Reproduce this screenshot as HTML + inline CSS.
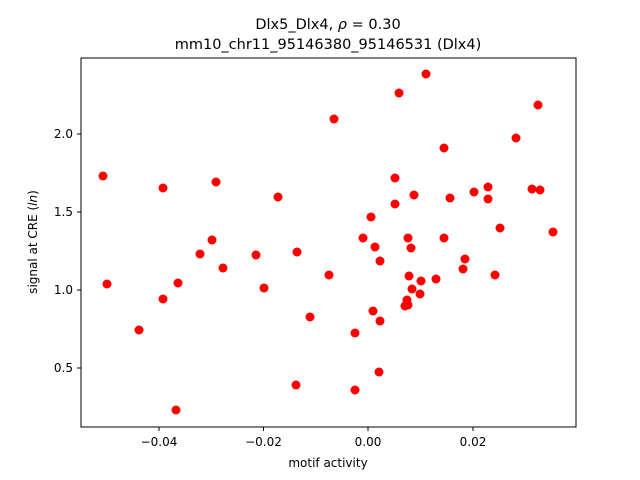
<!DOCTYPE html>
<html><head><style>body{margin:0;background:#fff}svg{display:block}text{font-family:"DejaVu Sans","Liberation Sans",sans-serif;fill:#000}</style></head>
<body>
<svg width="640" height="480" xmlns="http://www.w3.org/2000/svg">
<rect width="640" height="480" fill="#fff"/>
<text x="328" y="29" font-size="14.5" text-anchor="middle">Dlx5_Dlx4, <tspan font-style="italic">ρ</tspan> = 0.30</text>
<text x="328" y="49" font-size="14.5" text-anchor="middle">mm10_chr11_95146380_95146531 (Dlx4)</text>
<g fill="#ff0000">
<circle cx="103" cy="176" r="4.5"/><circle cx="107" cy="284" r="4.5"/><circle cx="139" cy="330" r="4.5"/><circle cx="163" cy="188" r="4.5"/><circle cx="163" cy="299" r="4.5"/><circle cx="176" cy="410" r="4.5"/><circle cx="178" cy="283" r="4.5"/><circle cx="200" cy="254" r="4.5"/><circle cx="212" cy="240" r="4.5"/><circle cx="216" cy="182" r="4.5"/><circle cx="223" cy="268" r="4.5"/><circle cx="256" cy="255" r="4.5"/><circle cx="264" cy="288" r="4.5"/><circle cx="278" cy="197" r="4.5"/><circle cx="297" cy="252" r="4.5"/><circle cx="296" cy="385" r="4.5"/><circle cx="310" cy="317" r="4.5"/><circle cx="329" cy="275" r="4.5"/><circle cx="334" cy="119" r="4.5"/><circle cx="355" cy="333" r="4.5"/><circle cx="355" cy="390" r="4.5"/><circle cx="363" cy="238" r="4.5"/><circle cx="371" cy="217" r="4.5"/><circle cx="373" cy="311" r="4.5"/><circle cx="375" cy="247" r="4.5"/><circle cx="380" cy="261" r="4.5"/><circle cx="380" cy="321" r="4.5"/><circle cx="379" cy="372" r="4.5"/><circle cx="395" cy="178" r="4.5"/><circle cx="395" cy="204" r="4.5"/><circle cx="399" cy="93" r="4.5"/><circle cx="405" cy="306" r="4.5"/><circle cx="407" cy="300" r="4.5"/><circle cx="408" cy="238" r="4.5"/><circle cx="408" cy="305" r="4.5"/><circle cx="409" cy="276" r="4.5"/><circle cx="411" cy="248" r="4.5"/><circle cx="412" cy="289" r="4.5"/><circle cx="414" cy="195" r="4.5"/><circle cx="420" cy="294" r="4.5"/><circle cx="421" cy="281" r="4.5"/><circle cx="426" cy="74" r="4.5"/><circle cx="436" cy="279" r="4.5"/><circle cx="444" cy="238" r="4.5"/><circle cx="444" cy="148" r="4.5"/><circle cx="450" cy="198" r="4.5"/><circle cx="463" cy="269" r="4.5"/><circle cx="465" cy="259" r="4.5"/><circle cx="474" cy="192" r="4.5"/><circle cx="488" cy="199" r="4.5"/><circle cx="488" cy="187" r="4.5"/><circle cx="495" cy="275" r="4.5"/><circle cx="500" cy="228" r="4.5"/><circle cx="516" cy="138" r="4.5"/><circle cx="532" cy="189" r="4.5"/><circle cx="538" cy="105" r="4.5"/><circle cx="540" cy="190" r="4.5"/><circle cx="553" cy="232" r="4.5"/>
</g>
<rect x="81" y="58" width="495" height="369" fill="none" stroke="#000" stroke-width="1"/>
<g stroke="#000" stroke-width="1">
<line x1="159" y1="427" x2="159" y2="431"/><line x1="263.5" y1="427" x2="263.5" y2="431"/><line x1="368" y1="427" x2="368" y2="431"/><line x1="473" y1="427" x2="473" y2="431"/>
<line x1="77" y1="134" x2="81" y2="134"/><line x1="77" y1="212" x2="81" y2="212"/><line x1="77" y1="290" x2="81" y2="290"/><line x1="77" y1="368" x2="81" y2="368"/>
</g>
<g font-size="12" text-anchor="middle">
<text x="159" y="446">−0.04</text><text x="263.5" y="446">−0.02</text><text x="368" y="446">0.00</text><text x="473" y="446">0.02</text>
<text x="328" y="467">motif activity</text>
</g>
<g font-size="12" text-anchor="end">
<text x="73" y="138">2.0</text><text x="73" y="216">1.5</text><text x="73" y="294">1.0</text><text x="73" y="372">0.5</text>
</g>
<text transform="translate(37,242) rotate(-90)" font-size="12" text-anchor="middle">signal at CRE (<tspan font-style="italic">ln</tspan>)</text>
</svg>
</body></html>
